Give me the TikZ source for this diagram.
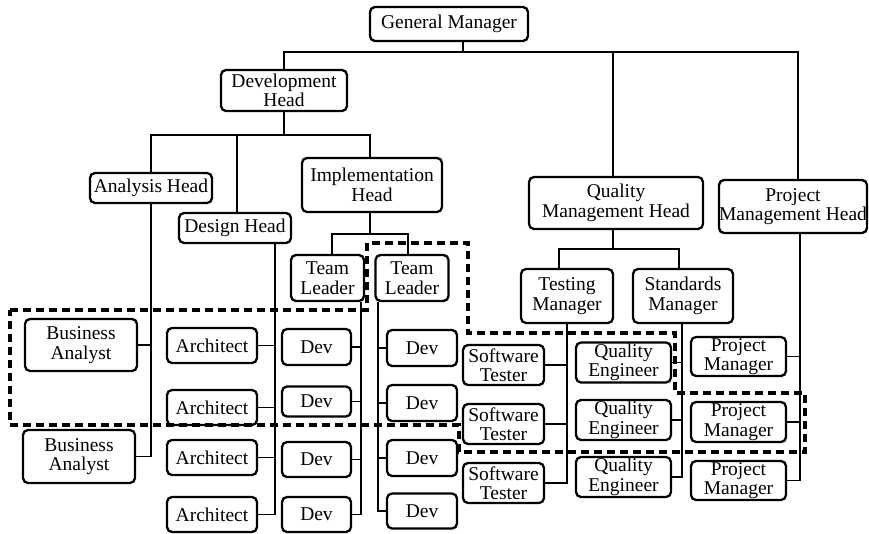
\documentclass[tikz,border=0pt]{standalone}
\usepackage{fontspec}
\setmainfont{Liberation Serif}
\usetikzlibrary{calc}
\begin{document}
\begin{tikzpicture}[x=1pt,y=-1pt,
  box/.style={draw, rounded corners=5pt, line width=2.3pt, align=center,
    inner sep=0pt, font=\fontsize{19.5}{19.5}\selectfont},
  link/.style={line width=1.9pt},
  group/.style={line width=3.4pt, dash pattern=on 8pt off 5pt}]
\useasboundingbox (0,0) rectangle (869,533);

% --- management levels
\node[box, minimum width=158, minimum height=34] (GM) at (449,24) {General Manager};
\node[box, minimum width=126, minimum height=41] (DevH) at (284,90.5) {Development\\Head};
\node[box, minimum width=122, minimum height=30] (AnH) at (151,188) {Analysis Head};
\node[box, minimum width=112, minimum height=30] (DesH) at (235,228) {Design Head};
\node[box, minimum width=140, minimum height=54] (ImpH) at (372,185) {Implementation\\Head};
\node[box, minimum width=174, minimum height=52] (QMH) at (616,203) {Quality\\Management Head};
\node[box, minimum width=148, minimum height=53] (PMH) at (793,206.5) {Project\\Management Head};
\node[box, minimum width=73, minimum height=46] (TL1) at (327.5,278) {Team\\Leader};
\node[box, minimum width=73, minimum height=46] (TL2) at (412,278) {Team\\Leader};
\node[box, minimum width=92, minimum height=54] (TM) at (567,296) {Testing\\Manager};
\node[box, minimum width=100, minimum height=54] (SM) at (683,296) {Standards\\Manager};

% --- staff
\node[box, minimum width=112, minimum height=52] (BA1) at (81,345) {Business\\Analyst};
\node[box, minimum width=112, minimum height=53] (BA2) at (79,456.5) {Business\\Analyst};

\node[box, minimum width=90, minimum height=35] (A1) at (212,345.5) {Architect};
\node[box, minimum width=90, minimum height=35] (A2) at (212,407.5) {Architect};
\node[box, minimum width=90, minimum height=35] (A3) at (212,457.5) {Architect};
\node[box, minimum width=90, minimum height=35] (A4) at (212,514.5) {Architect};

\node[box, minimum width=69, minimum height=36] (D11) at (316.5,347) {Dev};
\node[box, minimum width=69, minimum height=30] (D12) at (316.5,401.5) {Dev};
\node[box, minimum width=69, minimum height=35] (D13) at (316.5,459.5) {Dev};
\node[box, minimum width=69, minimum height=35] (D14) at (316.5,514.5) {Dev};

\node[box, minimum width=70, minimum height=36] (D21) at (422,348) {Dev};
\node[box, minimum width=70, minimum height=36] (D22) at (422,403) {Dev};
\node[box, minimum width=70, minimum height=36] (D23) at (422,458) {Dev};
\node[box, minimum width=70, minimum height=35] (D24) at (422,511) {Dev};

\node[box, minimum width=81, minimum height=40] (ST1) at (503.5,365) {Software\\Tester};
\node[box, minimum width=81, minimum height=40] (ST2) at (503.5,424) {Software\\Tester};
\node[box, minimum width=81, minimum height=40] (ST3) at (503.5,483) {Software\\Tester};

\node[box, minimum width=95, minimum height=40] (QE1) at (623.5,362.5) {Quality\\Engineer};
\node[box, minimum width=95, minimum height=40] (QE2) at (623.5,420) {Quality\\Engineer};
\node[box, minimum width=95, minimum height=40] (QE3) at (623.5,477) {Quality\\Engineer};

\node[box, minimum width=95, minimum height=39] (PM1) at (738.5,356.5) {Project\\Manager};
\node[box, minimum width=95, minimum height=40] (PM2) at (738.5,422) {Project\\Manager};
\node[box, minimum width=95, minimum height=39] (PM3) at (738.5,480.5) {Project\\Manager};

% --- reporting lines
\coordinate (gmbus) at ([xshift=14pt]GM.south |- 0,52);
\draw[link] ([xshift=14pt]GM.south) -- (gmbus);
\draw[link] (DevH.north) |- (gmbus);
\draw[link] (gmbus) -| ([xshift=5pt]PMH.north);
\draw[link] ([xshift=-3pt]QMH.north) -- ([xshift=-3pt]QMH.north |- gmbus);

\coordinate (devbus) at ($(DevH.south)+(0,23)$);
\draw[link] (DevH.south) -- (devbus);
\draw[link] (devbus) -| (AnH.north);
\draw[link] (devbus) -| ([xshift=2pt]DesH.north);
\draw[link] (devbus) -| ([xshift=-2pt]ImpH.north);

\draw[link] (AnH.south) |- (BA2.east);
\draw[link] (BA1.east) -- (BA1.east -| AnH.south);

\coordinate (desx) at ([xshift=40pt]DesH.south);
\draw[link] (desx) |- (A4.east);
\foreach \n in {A1,A2,A3} \draw[link] (\n.east) -- (\n.east -| desx);

\coordinate (impbus) at ($([xshift=-2pt]ImpH.south)+(0,21)$);
\draw[link] ([xshift=-2pt]ImpH.south) -- (impbus);
\draw[link] (impbus) -| ([xshift=4.5pt]TL1.north);
\draw[link] (impbus) -| ([xshift=-4pt]TL2.north);

\coordinate (tla) at ([xshift=33.5pt]TL1.south);
\draw[link] (tla) |- (D14.east);
\foreach \n in {D11,D12,D13} \draw[link] (\n.east) -- (\n.east -| tla);

\coordinate (tlb) at ([xshift=-34pt]TL2.south);
\draw[link] (tlb) |- (D24.west);
\foreach \n in {D21,D22,D23} \draw[link] (\n.west) -- (\n.west -| tlb);

\coordinate (qmbus) at ($([xshift=-3pt]QMH.south)+(0,19)$);
\draw[link] ([xshift=-3pt]QMH.south) -- (qmbus);
\draw[link] (qmbus) -| ([xshift=-8pt]TM.north);
\draw[link] (qmbus) -| ([xshift=-4pt]SM.north);

\draw[link] (TM.south) |- (ST3.east);
\foreach \n in {ST1,ST2} \draw[link] (\n.east) -- (\n.east -| TM.south);

\coordinate (smx) at ([xshift=-1pt]SM.south);
\draw[link] (smx) |- (QE3.east);
\foreach \n in {QE1,QE2} \draw[link] (\n.east) -- (\n.east -| smx);

\coordinate (pmx) at ([xshift=7pt]PMH.south);
\draw[link] (pmx) |- (PM3.east);
\foreach \n in {PM1,PM2} \draw[link] (\n.east) -- (\n.east -| pmx);

% --- dashed grouping outline
\draw[group] (10,310) -- (367,310) -- (367,243) -- (468,243) -- (468,333)
  -- (675,333) -- (675,393) -- (805,393) -- (805,452) -- (459,452)
  -- (459,425) -- (10,425) -- cycle;
\end{tikzpicture}
\end{document}
